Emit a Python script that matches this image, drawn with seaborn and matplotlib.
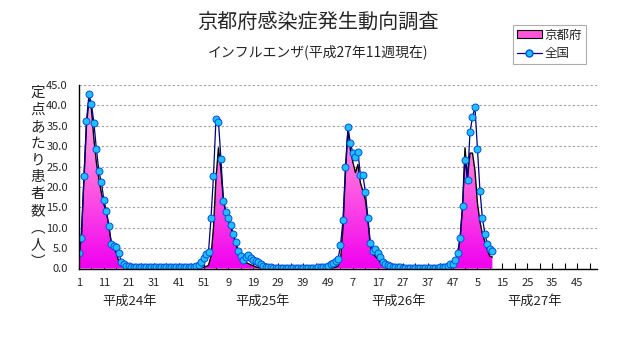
import numpy as np
import pandas as pd
import matplotlib
matplotlib.use('Agg')
import matplotlib.pyplot as plt
import seaborn as sns
from matplotlib.colors import LinearSegmentedColormap
from matplotlib.patches import Patch
from matplotlib.lines import Line2D

# ---- data (per-sentinel patients, weekly) ----
kyoto_h24 = [2.0, 9.0, 22.0, 35.0, 41.5, 39.0, 31.6, 25.9, 21.8, 18.5,
             15.7, 14.0, 10.3, 6.2, 5.0, 3.8, 1.7, 0.8, 0.4, 0.2,
             0.1, 0.1, 0.05, 0.05, 0.0, 0.0, 0.0, 0.0, 0.0, 0.0,
             0.0, 0.0, 0.0, 0.0, 0.0, 0.0, 0.0, 0.0, 0.0, 0.0,
             0.0, 0.0, 0.0, 0.0, 0.0, 0.0, 0.0, 0.05, 0.1, 0.2,
             0.3, 0.5]
kyoto_h25 = [0.8, 3.0, 10.0, 22.0, 29.6, 24.0, 16.6, 13.8, 11.7, 10.0,
             8.0, 6.0, 3.9, 2.7, 1.9, 1.5, 1.2, 0.9, 0.65, 0.4,
             0.25, 0.15, 0.1, 0.05, 0.0, 0.0, 0.0, 0.0, 0.0, 0.0,
             0.0, 0.0, 0.0, 0.0, 0.0, 0.0, 0.0, 0.0, 0.0, 0.0,
             0.0, 0.0, 0.0, 0.0, 0.0, 0.0, 0.0, 0.0, 0.05, 0.1,
             0.15, 0.3]
kyoto_h26 = [0.6, 2.0, 10.0, 23.8, 34.0, 29.0, 26.0, 23.5, 25.5, 21.0,
             19.0, 16.8, 11.9, 5.4, 3.5, 3.0, 2.3, 1.5, 1.0, 0.6,
             0.3, 0.2, 0.1, 0.05, 0.0, 0.0, 0.0, 0.0, 0.0, 0.0,
             0.0, 0.0, 0.0, 0.0, 0.0, 0.0, 0.0, 0.0, 0.0, 0.0,
             0.0, 0.0, 0.0, 0.0, 0.05, 0.1, 0.4, 1.5, 3.3, 7.0,
             15.0, 29.6]
kyoto_h27 = [22.2, 28.3, 28.3, 24.0, 16.0, 11.5, 8.5, 6.5, 4.5, 3.0, 2.8]

national_h24 = [3.9, 7.4, 22.8, 36.1, 42.7, 40.4, 35.6, 29.2, 23.8, 21.1,
                16.7, 14.1, 10.3, 6.1, 5.6, 5.3, 3.8, 1.6, 1.0, 0.7,
                0.5, 0.4, 0.35, 0.3, 0.3, 0.35, 0.3, 0.3, 0.4, 0.45,
                0.35, 0.3, 0.45, 0.35, 0.3, 0.3, 0.3, 0.25, 0.25, 0.25,
                0.25, 0.25, 0.25, 0.25, 0.3, 0.35, 0.45, 0.6, 0.9, 1.6,
                2.6, 3.5]
national_h25 = [4.1, 12.3, 22.7, 36.7, 36.0, 26.8, 16.5, 13.9, 12.3, 10.6,
                8.4, 6.5, 4.4, 3.1, 2.1, 2.9, 3.3, 2.6, 2.1, 1.9,
                1.6, 1.1, 0.7, 0.45, 0.3, 0.25, 0.2, 0.2, 0.2, 0.15,
                0.15, 0.15, 0.15, 0.15, 0.15, 0.15, 0.15, 0.15, 0.15, 0.15,
                0.15, 0.2, 0.2, 0.2, 0.25, 0.3, 0.35, 0.45, 0.7, 1.1,
                1.4, 1.8]
national_h26 = [2.25, 5.7, 11.8, 24.8, 34.6, 30.7, 28.3, 27.4, 28.6, 23.0,
                22.9, 18.7, 12.4, 6.2, 4.3, 4.8, 3.8, 2.7, 1.6, 1.1,
                0.8, 0.6, 0.45, 0.35, 0.3, 0.25, 0.2, 0.2, 0.2, 0.15,
                0.15, 0.15, 0.15, 0.15, 0.15, 0.15, 0.15, 0.15, 0.2, 0.2,
                0.2, 0.25, 0.35, 0.4, 0.7, 1.0, 1.15, 2.0, 3.7, 7.5,
                15.3, 26.7]
national_h27 = [21.6, 33.4, 37.1, 39.5, 29.3, 19.1, 12.3, 8.5, 6.0, 4.7, 4.2]

tick_labels = ['1', '11', '21', '31', '41', '51', '9', '19', '29', '39', '49',
               '7', '17', '27', '37', '47', '5', '15', '25', '35', '45']
year_labels = ['平成24年', '平成25年', '平成26年', '平成27年']
series_names = ['京都府', '全国']
title = '京都府感染症発生動向調査'
subtitle = 'インフルエンザ(平成27年11週現在)'
ylabel_chars = ['定', '点', 'あ', 'た', 'り', '患', '者', '数', '︵', '人', '︶']
weeks_in_years = [52, 52, 52, 53]

kyoto = np.array(kyoto_h24 + kyoto_h25 + kyoto_h26 + kyoto_h27)
national = np.array(national_h24 + national_h25 + national_h26 + national_h27)
df = pd.DataFrame({'week': np.arange(len(national)),
                   'kyoto': kyoto, 'national': national})

sns.set_theme(style='white')
plt.rcParams['font.family'] = ['Noto Sans CJK JP', 'DejaVu Sans']

W, H = 631, 347
fig = plt.figure(figsize=(W / 100, H / 100), dpi=100)
ax = fig.add_axes([79 / W, 1 - 268.5 / H, 518 / W, 183.5 / H])

total_weeks = sum(weeks_in_years)
ax.set_xlim(0, total_weeks - 1)
ax.set_ylim(0, 45)

# gradient filled area for Kyoto
poly = ax.fill_between(df['week'], df['kyoto'], 0, facecolor='none',
                       edgecolor='none')
cmap = LinearSegmentedColormap.from_list('pk', ['#F000F0', '#FF66E0', '#FFC0F0'])
grad = np.linspace(0, 1, 256).reshape(-1, 1)
im = ax.imshow(grad, extent=[0, total_weeks - 1, 0, 45], origin='lower',
               aspect='auto', cmap=cmap, zorder=2, interpolation='bilinear')
im.set_clip_path(poly.get_paths()[0], transform=ax.transData)
ax.plot(df['week'], df['kyoto'], color='black', lw=1.0, zorder=3)

# national line
sns.lineplot(data=df, x='week', y='national', ax=ax, color='#000080', lw=0.9,
             marker='o', markersize=5, markerfacecolor='#20C0FF',
             markeredgecolor='#0050E0', markeredgewidth=0.7, zorder=5)

ax.set_xlim(0, total_weeks - 1)
ax.set_ylim(0, 45)
ax.set_xlabel('')
ax.set_ylabel('')

ax.set_yticks(np.arange(0, 46, 5))
ax.set_yticklabels([f'{v:.1f}' for v in np.arange(0, 46, 5)], fontsize=8)
ax.set_xticks(np.arange(0, 10 * len(tick_labels), 10))
ax.set_xticklabels(tick_labels, fontsize=8)
ax.set_xticks(np.arange(0, total_weeks, 5), minor=True)
ax.tick_params(axis='x', which='both', direction='in', length=4, width=0.8,
               color='black', pad=7, bottom=True)
ax.tick_params(axis='y', which='both', direction='out', length=0, pad=8, left=True)

ax.yaxis.grid(True, color='#a0a0a0', linestyle=(0, (2, 2)), lw=0.8)
ax.xaxis.grid(False)
ax.set_axisbelow(True)
for s in ['top', 'right']:
    ax.spines[s].set_visible(False)
for s in ['left', 'bottom']:
    ax.spines[s].set_color('black')
    ax.spines[s].set_linewidth(1.0)
    ax.spines[s].set_zorder(6)

# titles
fig.text(318 / W, 1 - 22 / H, title, ha='center', va='center', fontsize=14.5)
fig.text(318 / W, 1 - 52 / H, subtitle, ha='center', va='center', fontsize=10)

# vertical y label
y0, y1 = 93, 262
for i, ch in enumerate(ylabel_chars):
    yy = y0 + (y1 - y0) * i / (len(ylabel_chars) - 1)
    fig.text(38 / W, 1 - yy / H, ch, ha='center', va='center', fontsize=10.5)

# year labels
for lab, xc in zip(year_labels, [129.5, 263, 398.6, 534.6]):
    fig.text(xc / W, 1 - 301 / H, lab, ha='center', va='center', fontsize=9.5)

# legend
handles = [Patch(facecolor='#FF55DD', edgecolor='black', lw=0.8),
           Line2D([], [], color='#000080', lw=0.9, marker='o', markersize=5,
                  markerfacecolor='#20C0FF', markeredgecolor='#0050E0')]
leg = fig.legend(handles, series_names, loc='upper left',
                 bbox_to_anchor=(513 / W, 1 - 25 / H), frameon=True,
                 fancybox=False, edgecolor='#999999', fontsize=9,
                 handlelength=2.0, handleheight=0.6, borderpad=0.3,
                 labelspacing=0.45, handletextpad=0.2, borderaxespad=0)
leg.get_frame().set_linewidth(0.8)

fig.savefig('out.png', dpi=100)
